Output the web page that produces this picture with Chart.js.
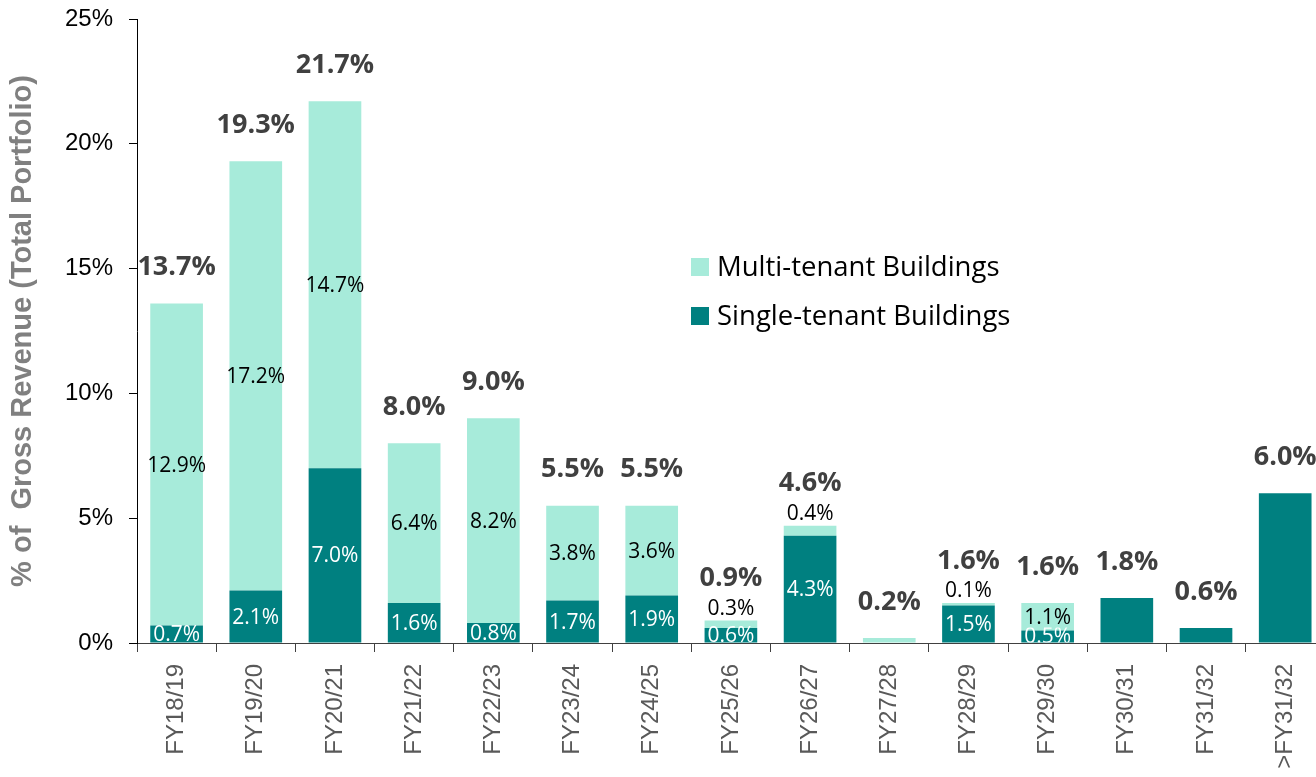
<!DOCTYPE html>
<html>
<head>
<meta charset="utf-8">
<script src="https://cdn.jsdelivr.net/npm/chart.js@4"></script>
<style>
  html, body { margin: 0; padding: 0; background: #fff; overflow: hidden; }
  #wrap { position: relative; width: 1326px; height: 777px; }
</style>
</head>
<body>
<div id="wrap"><canvas id="c"></canvas></div>
<script>
const categories = ['FY18/19','FY19/20','FY20/21','FY21/22','FY22/23','FY23/24','FY24/25','FY25/26','FY26/27','FY27/28','FY28/29','FY29/30','FY30/31','FY31/32','>FY31/32'];
const singleTenant = [0.7, 2.1, 7.0, 1.6, 0.8, 1.7, 1.9, 0.6, 4.3, 0, 1.5, 0.5, 1.8, 0.6, 6.0];
const multiTenant  = [12.9, 17.2, 14.7, 6.4, 8.2, 3.8, 3.6, 0.3, 0.4, 0.2, 0.1, 1.1, 0, 0, 0];
const totals       = [13.7, 19.3, 21.7, 8.0, 9.0, 5.5, 5.5, 0.9, 4.6, 0.2, 1.6, 1.6, 1.8, 0.6, 6.0];
const seriesNames  = ['Single-tenant Buildings', 'Multi-tenant Buildings'];
const yMax = 25, yStep = 5;

const DARK = '#008080', LIGHT = '#A7EBDA';
const fmt = v => v.toFixed(1) + '%';

const labelPlugin = {
  id: 'labels',
  afterDatasetsDraw(chart) {
    const ctx = chart.ctx;
    const ys = chart.scales.y;
    const mS = chart.getDatasetMeta(0), mM = chart.getDatasetMeta(1);
    ctx.save();
    ctx.textAlign = 'center';
    ctx.textBaseline = 'middle';
    categories.forEach((c, i) => {
      const s = singleTenant[i], m = multiTenant[i];
      const eS = mS.data[i], eM = mM.data[i];
      let outsideY = null;
      if (s > 0 && m > 0) {
        ctx.save();
        ctx.beginPath();
        const w = eS.width;
        const topClip = Math.min(eS.y, eS.base) - 3;
        ctx.rect(eS.x - w / 2, topClip, w, eS.base - topClip);
        ctx.clip();
        ctx.fillStyle = '#ffffff';
        ctx.font = '21px "Open Sans"';
        ctx.fillText(fmt(s), eS.x, (eS.y + eS.base) / 2 + 1);
        ctx.restore();
        const h = Math.abs(eM.base - eM.y);
        ctx.fillStyle = '#000000';
        ctx.font = '21px "Open Sans"';
        if (h < 22) {
          outsideY = eM.y - 12;
          ctx.fillText(fmt(m), eM.x, outsideY);
        } else {
          ctx.fillText(fmt(m), eM.x, (eM.y + eM.base) / 2 + 1);
        }
      }
      const top = ys.getPixelForValue(s + m);
      const ty = outsideY !== null ? outsideY - 30 : top - 36;
      ctx.fillStyle = '#404040';
      ctx.font = 'bold 27px "Open Sans"';
      ctx.fillText(fmt(totals[i]), eS.x, ty);
    });
    ctx.restore();
  },
  afterDraw(chart) {
    const ctx = chart.ctx;
    const items = [1, 0];
    ctx.save();
    ctx.textAlign = 'left';
    ctx.textBaseline = 'middle';
    ctx.font = '27.5px "Open Sans"';
    items.forEach((di, k) => {
      const ds = chart.data.datasets[di];
      const cy = 267 + k * 49;
      ctx.fillStyle = ds.backgroundColor;
      ctx.fillRect(691, cy - 9, 18, 18);
      ctx.fillStyle = '#000000';
      ctx.fillText(ds.label, 717, cy + 1);
    });
    ctx.restore();
  }
};

new Chart(document.getElementById('c'), {
  type: 'bar',
  data: {
    labels: categories,
    datasets: [
      { label: seriesNames[0], data: singleTenant, backgroundColor: DARK, borderWidth: 0 },
      { label: seriesNames[1], data: multiTenant, backgroundColor: LIGHT, borderWidth: 0 }
    ]
  },
  options: {
    responsive: true,
    maintainAspectRatio: false,
    animation: false,
    devicePixelRatio: 1,
    layout: { padding: { top: 19, left: 0, right: 0, bottom: 0 } },
    datasets: { bar: { categoryPercentage: 1.0, barPercentage: 0.665 } },
    plugins: { legend: { display: false }, tooltip: { enabled: false } },
    scales: {
      x: {
        stacked: true,
        afterFit(scale) { scale.height = 134; },
        grid: { drawOnChartArea: false, drawTicks: true, tickLength: 9, color: '#404040', offset: true },
        border: { display: true, color: '#404040', width: 1 },
        ticks: {
          minRotation: 90, maxRotation: 90, autoSkip: false, padding: 12,
          color: '#595959',
          font: { family: '"Liberation Sans", Arial, sans-serif', size: 24 }
        }
      },
      y: {
        stacked: true,
        min: 0, max: yMax,
        afterFit(scale) { scale.width = 137; scale.paddingTop = 0; scale.paddingBottom = 0; },
        grid: { drawOnChartArea: false, drawTicks: true, tickLength: 8, color: '#000000' },
        border: { display: true, color: '#000000', width: 1 },
        ticks: {
          stepSize: yStep,
          padding: 16,
          color: '#000000',
          font: { family: '"Liberation Sans", Arial, sans-serif', size: 24 },
          callback: v => v + '%'
        },
        title: {
          display: true,
          text: '% of  Gross Revenue (Total Portfolio)',
          color: '#808080',
          padding: { top: 6, bottom: 0 },
          font: { family: '"Liberation Sans", Arial, sans-serif', size: 29, weight: 'bold' }
        }
      }
    }
  },
  plugins: [labelPlugin]
});
</script>
</body>
</html>
